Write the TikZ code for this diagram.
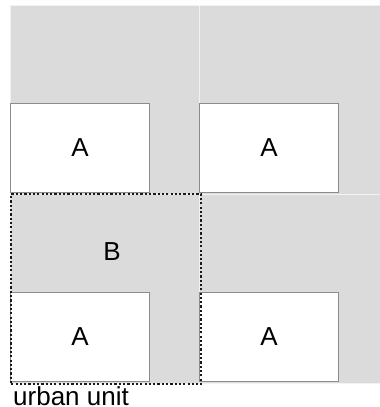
\documentclass[tikz,border=0pt]{standalone}
\usepackage{fontspec}
\setmainfont{Liberation Sans}

\begin{document}
\begin{tikzpicture}[x=1pt,y=-1pt,font=\fontsize{26}{30}\selectfont]
    \tikzset{
      tile/.style={fill=black!14, draw=black!5, line width=1pt},
      plot/.style={draw=black!45, fill=white, line width=1pt, inner sep=0pt,
        minimum width=139pt, minimum height=89pt, anchor=south west},
      unitbox/.style={draw=black!90, line width=2.4pt, dash pattern=on 2.2pt off 2.1pt,
        minimum width=190pt, minimum height=190pt, inner sep=0pt, anchor=north west}
    }
    \useasboundingbox (0,0) rectangle (380,407);
    % grey tiles
    \foreach \x/\w in {10/189,199/181}
      \foreach \y in {5,194}
        \draw[tile] (\x,\y) rectangle ++(\w,189);
    % plots A
    \node[plot] (a1) at (10,193)  {A};
    \node[plot] (a2) at (199,193) {A};
    \node[plot] (a3) at (10,382)  {A};
    \node[plot] (a4) at (199,382) {A};
    % urban unit
    \node[unitbox] (unit) at (10,193) {};
    \node (b) at (112,252) {B};
    \node[anchor=base west, inner sep=0pt] (label) at ([shift={(3,20.5)}]unit.south west) {urban unit};
\end{tikzpicture}
\end{document}
